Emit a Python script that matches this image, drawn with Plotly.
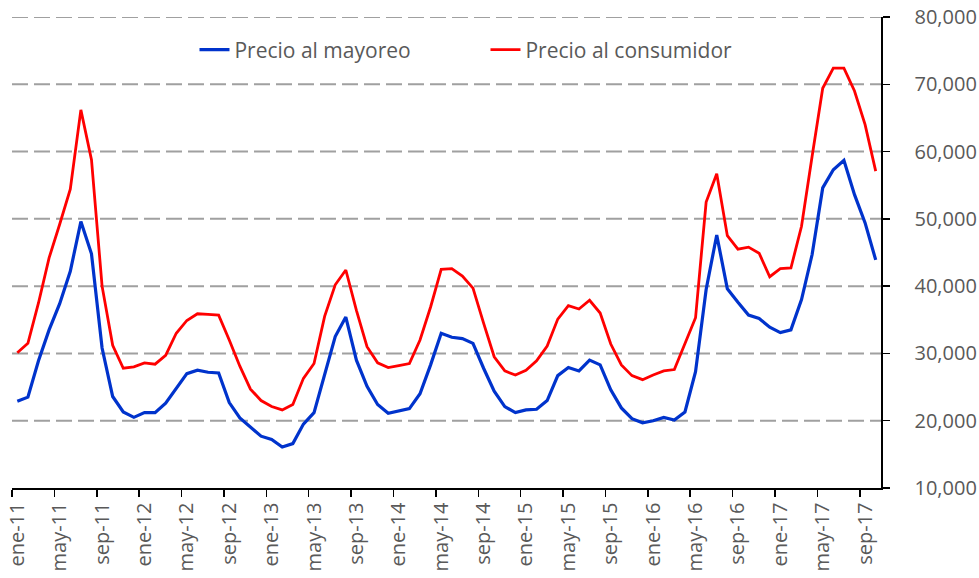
import plotly.graph_objects as go

months = ["ene", "feb", "mar", "abr", "may", "jun", "jul", "ago", "sep", "oct", "nov", "dic"]
years = ["11", "12", "13", "14", "15", "16", "17"]
categories = [f"{m}-{y}" for y in years for m in months][:82]  # ene-11 .. oct-17

precio_mayoreo = [
    22900, 23500, 28900, 33500, 37400, 42200, 49600, 44800, 30800, 23600, 21300, 20500,
    21200, 21200, 22600, 24900, 27000, 27500, 27200, 27100, 22700, 20400, 19100, 17700,
    17200, 16100, 16600, 19500, 21200, 27000, 32500, 35400, 29000, 25100, 22400, 21100,
    21500, 21800, 24000, 28300, 33000, 32400, 32200, 31500, 27800, 24400, 22100, 21200,
    21600, 21700, 23000, 26700, 27900, 27400, 29000, 28300, 24600, 21900, 20300, 19700,
    20000, 20500, 20100, 21300, 27300, 39500, 47600, 39600, 37600, 35700, 35200, 33900,
    33100, 33500, 38000, 44700, 54600, 57300, 58700, 53600, 49400, 43900,
]
precio_consumidor = [
    30100, 31500, 37500, 44200, 49200, 54400, 66200, 58800, 40000, 31200, 27800, 28000,
    28600, 28400, 29700, 33000, 34900, 35900, 35800, 35700, 32000, 28100, 24700, 23000,
    22100, 21600, 22400, 26300, 28500, 35500, 40200, 42400, 36400, 31000, 28600, 27900,
    28200, 28500, 32000, 36900, 42500, 42600, 41500, 39700, 34500, 29500, 27400, 26800,
    27500, 28900, 31100, 35100, 37100, 36600, 37900, 36000, 31400, 28300, 26700, 26100,
    26800, 27400, 27600, 31400, 35300, 52500, 56700, 47500, 45500, 45800, 44900, 41400,
    42600, 42700, 48900, 59300, 69400, 72400, 72400, 69000, 64000, 57100,
]
y_ticks = [10000, 20000, 30000, 40000, 50000, 60000, 70000, 80000]

FONT = "Open Sans"
GRAY = "#595959"

fig = go.Figure()
fig.add_trace(go.Scatter(x=categories, y=precio_mayoreo, mode="lines",
                         name="Precio al mayoreo",
                         line=dict(color="#0033CC", width=3.2)))
fig.add_trace(go.Scatter(x=categories, y=precio_consumidor, mode="lines",
                         name="Precio al consumidor",
                         line=dict(color="#FF0000", width=2.8)))

# dashed horizontal gridlines (above 10,000)
for v in y_ticks[1:]:
    fig.add_hline(y=v, line=dict(color="#A0A0A0", width=2, dash="16px,6px"), layer="below")

fig.update_layout(
    width=979, height=578,
    margin=dict(l=12, r=98, t=17, b=89.5),
    paper_bgcolor="white", plot_bgcolor="white",
    font=dict(family=FONT, size=21, color=GRAY),
    showlegend=True,
    legend=dict(orientation="h", x=0.21, y=0.93, xanchor="left", yanchor="middle",
                font=dict(family=FONT, size=21, color=GRAY),
                bgcolor="rgba(0,0,0,0)", entrywidth=246, itemwidth=30),
    xaxis=dict(type="category", range=[-0.5, 81.5], dtick=4, tickson="boundaries",
               showgrid=False, showline=True, linecolor="black", linewidth=1.5,
               ticks="outside", ticklen=7, tickcolor="black", tickwidth=1.5,
               tickangle=-90, tickfont=dict(family=FONT, size=20, color=GRAY),
               ticklabelstandoff=5, automargin=False,
               zeroline=False, fixedrange=True),
    yaxis=dict(side="right", range=[10000, 80000], tickvals=y_ticks, tickformat=",",
               showgrid=False, showline=True, linecolor="black", linewidth=1.5,
               ticks="outside", ticklen=7, tickcolor="black", tickwidth=1.5,
               tickfont=dict(family=FONT, size=20, color=GRAY),
               ticklabelstandoff=21, automargin=False,
               zeroline=False, fixedrange=True),
)

fig.write_html(
    "out.html",
    config={"displayModeBar": False, "staticPlot": True},
    post_script="document.body.style.margin='0';document.body.style.overflow='hidden';",
)
